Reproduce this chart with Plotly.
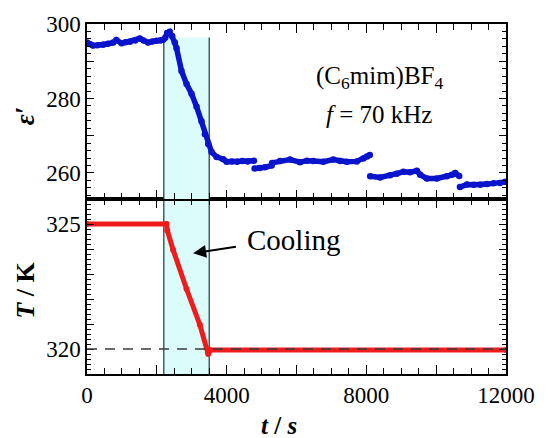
import plotly.graph_objects as go

# Dielectric constant ε' of (C6mim)BF4 at 70 kHz, recorded in segments (s, value)
eps_t1 = [0, 80, 170, 300, 460, 600, 750, 840, 990, 1100, 1230, 1380, 1510, 1620,
          1750, 1870, 1990, 2100, 2180, 2240, 2295, 2370, 2440, 2515, 2564, 2707,
          2851, 2994, 3138, 3281, 3376, 3471, 3567, 3711, 3901, 3998, 4150, 4300,
          4450, 4600, 4780]
eps_v1 = [295.0, 294.6, 294.2, 294.3, 294.4, 294.7, 295.0, 295.7, 294.8, 295.1,
          295.2, 295.6, 296.1, 295.6, 295.0, 295.3, 295.5, 295.6, 295.8, 296.3,
          297.6, 297.9, 296.8, 295.0, 293.5, 287.4, 283.9, 281.3, 277.8, 273.9,
          270.4, 267.8, 265.6, 264.3, 263.7, 263.0, 263.1, 263.0, 263.2, 263.1, 263.3]
eps_t2 = [4800, 4950, 5100, 5290]
eps_v2 = [261.2, 261.3, 261.5, 262.0]
eps_t3 = [5300, 5527, 5814, 6100, 6300, 6482, 6769, 7055, 7250, 7438, 7726, 7916, 8020, 8100]
eps_v3 = [262.7, 263.2, 263.6, 262.9, 263.3, 263.2, 263.0, 263.6, 263.2, 263.0,
          263.1, 263.9, 264.4, 264.8]
eps_t4 = [8110, 8395, 8681, 8870, 9063, 9250, 9447, 9542, 9734, 10020, 10307, 10450, 10546, 10660]
eps_v4 = [259.1, 258.8, 259.4, 259.8, 260.3, 260.2, 260.6, 259.5, 258.5, 258.5,
          259.1, 259.5, 260.0, 259.2]
eps_t5 = [10680, 10881, 11080, 11263, 11450, 11645, 11830, 11980]
eps_v5 = [256.2, 256.9, 256.8, 256.8, 257.0, 257.2, 257.3, 257.6]

# Temperature programme (s, K)
temp_t = [0, 2277, 2300, 2467, 2851, 3232, 3471, 3495, 3519, 12000]
temp_v = [325.0, 325.0, 324.74, 323.96, 322.4, 320.97, 319.8, 319.9, 319.96, 319.96]

# Cooling interval and reference temperature
cool_start, cool_end = 2200, 3500
cool_top_eps = 296.4
t_ref = 320

# Axis ranges
t_range = [0, 12000]
eps_range = [253, 300]
T_range = [319, 326]

# Major ticks and their labels (blank labels on unlabelled majors)
x_tickvals = [0, 2000, 4000, 6000, 8000, 10000, 12000]
x_ticktext = ["0", "", "4000", "", "8000", "", "12000"]
eps_tickvals = [260, 270, 280, 290, 300]
eps_ticktext = ["260", "", "280", "", "300"]
T_tickvals = [320, 321, 322, 323, 324, 325, 326]
T_ticktext = ["320", "", "", "", "", "325", ""]

SERIF = "Liberation Serif, Times New Roman, DejaVu Serif, serif"
BLUE = "#0a14cc"
RED = "#f01c1c"


def join(*segs):
    xs, ys = [], []
    for t, v in segs:
        if xs:
            xs.append(None)
            ys.append(None)
        xs.extend(t)
        ys.extend(v)
    return xs, ys


ex, ey = join((eps_t1, eps_v1), (eps_t2, eps_v2), (eps_t3, eps_v3),
              (eps_t4, eps_v4), (eps_t5, eps_v5))

fig = go.Figure()
fig.add_trace(go.Scatter(x=ex, y=ey, xaxis="x2", yaxis="y2", mode="lines+markers",
                         line=dict(color=BLUE, width=5.5), marker=dict(color=BLUE, size=6.5),
                         connectgaps=False, hoverinfo="skip", showlegend=False))
fig.add_trace(go.Scatter(x=temp_t, y=temp_v, xaxis="x", yaxis="y", mode="lines+markers",
                         line=dict(color=RED, width=5), marker=dict(color=RED, size=6),
                         hoverinfo="skip", showlegend=False))
# empty traces that bind the minor-tick overlay axes to their panels
for xa, ya in (("x3", "y"), ("x", "y3"), ("x4", "y2"), ("x2", "y4")):
    fig.add_trace(go.Scatter(x=[None], y=[None], xaxis=xa, yaxis=ya, mode="markers",
                             hoverinfo="skip", showlegend=False))

shapes = [
    dict(type="rect", xref="x2", yref="y2", x0=cool_start, x1=cool_end, y0=eps_range[0],
         y1=cool_top_eps, fillcolor="#dcfcfc", line=dict(width=0), layer="below"),
    dict(type="rect", xref="x", yref="y", x0=cool_start, x1=cool_end, y0=T_range[0],
         y1=T_range[1], fillcolor="#dcfcfc", line=dict(width=0), layer="below"),
    dict(type="line", xref="x", yref="y", x0=t_range[0], x1=t_range[1], y0=t_ref, y1=t_ref,
         line=dict(color="#3a3a3a", width=1.4, dash="10px,8px"), layer="above"),
]
for xv in (cool_start, cool_end):
    shapes.append(dict(type="line", xref="x2", yref="y2", x0=xv, x1=xv, y0=eps_range[0],
                       y1=cool_top_eps, line=dict(color="#183838", width=1.2), layer="below"))
    shapes.append(dict(type="line", xref="x", yref="y", x0=xv, x1=xv, y0=T_range[0],
                       y1=T_range[1], line=dict(color="#183838", width=1.2), layer="below"))

tickfont = dict(family=SERIF, size=23, color="black")
common = dict(showline=True, linecolor="black", linewidth=1.5, mirror="ticks",
              ticks="inside", tickcolor="black", tickwidth=1.2, showgrid=False,
              zeroline=False, tickfont=tickfont, tickmode="array")
# overlay axes carrying only the minor ticks
minor_ax = dict(showline=False, mirror="ticks", ticks="inside", tickcolor="black",
                tickwidth=1.1, showgrid=False, zeroline=False, showticklabels=False,
                tickmode="linear")

annotations = [
    dict(text="(C<sub>6</sub>mim)BF<sub>4</sub>", xref="x2", yref="y2", x=8395, y=285.6,
         showarrow=False, font=dict(family=SERIF, size=25, color="black")),
    dict(text="<i>f</i> = 70 kHz", xref="x2", yref="y2", x=8366, y=275.7,
         showarrow=False, font=dict(family=SERIF, size=25, color="black")),
    dict(text="Cooling", xref="x", yref="y", x=5914, y=324.38,
         showarrow=False, font=dict(family=SERIF, size=29, color="black")),
    dict(text=" ", xref="x", yref="y", x=3040, y=323.83, axref="x", ayref="y",
         ax=4322, ay=324.1, showarrow=True, arrowhead=2, arrowsize=1.3, arrowwidth=2,
         arrowcolor="black", standoff=0, startstandoff=0, font=dict(size=2)),
    dict(text="<b><i>ε′</i></b>", xref="paper", yref="paper", x=-0.149, y=0.738,
         xanchor="center", yanchor="middle", textangle=-90, showarrow=False,
         font=dict(family=SERIF, size=27, color="black")),
    dict(text="<b><i>T</i> / K</b>", xref="paper", yref="paper", x=-0.1456, y=0.241,
         xanchor="center", yanchor="middle", textangle=-90, showarrow=False,
         font=dict(family=SERIF, size=26, color="black")),
    dict(text="<b><i>t</i> / <i>s</i></b>", xref="paper", yref="paper", x=0.458, y=-0.147,
         xanchor="center", yanchor="middle", showarrow=False,
         font=dict(family=SERIF, size=25, color="black")),
]

fig.update_layout(
    width=548, height=438,
    margin=dict(l=87, r=42, t=15, b=64),
    paper_bgcolor="white", plot_bgcolor="white",
    shapes=shapes, annotations=annotations,
    xaxis=dict(common, range=t_range, tickvals=x_tickvals, ticktext=x_ticktext,
               ticklen=9, anchor="y"),
    xaxis2=dict(common, range=t_range, tickvals=x_tickvals, ticktext=x_ticktext,
                ticklen=9, anchor="y2", showticklabels=False),
    yaxis=dict(common, domain=[0, 0.5], range=T_range, tickvals=T_tickvals,
               ticktext=T_ticktext, ticklen=7, anchor="x"),
    yaxis2=dict(common, domain=[0.5, 1], range=eps_range, tickvals=eps_tickvals,
                ticktext=eps_ticktext, ticklen=7, anchor="x2"),
    xaxis3=dict(minor_ax, overlaying="x", anchor="y", range=t_range, tick0=0, dtick=500,
                ticklen=6),
    xaxis4=dict(minor_ax, overlaying="x2", anchor="y2", range=t_range, tick0=0, dtick=500,
                ticklen=6),
    yaxis3=dict(minor_ax, overlaying="y", anchor="x", range=T_range, tick0=319, dtick=0.2,
                ticklen=4),
    yaxis4=dict(minor_ax, overlaying="y2", anchor="x2", range=eps_range, tick0=250, dtick=2,
                ticklen=4),
)

fig.write_html("out.html")
